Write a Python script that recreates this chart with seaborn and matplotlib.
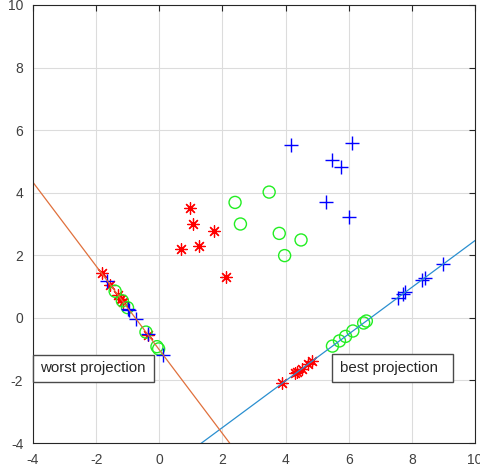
import numpy as np
import pandas as pd
import matplotlib
matplotlib.use("Agg")
import matplotlib.pyplot as plt
from matplotlib.patches import Rectangle
import seaborn as sns

# class data
red_x = [0.97, 1.06, 1.74, 0.69, 1.26, 2.10]
red_y = [3.51, 3.00, 2.79, 2.20, 2.31, 1.30]
green_x = [3.48, 2.40, 2.57, 3.80, 4.49, 3.97]
green_y = [4.02, 3.69, 3.00, 2.70, 2.49, 1.99]
blue_x = [4.17, 6.10, 5.47, 5.76, 5.28, 6.01]
blue_y = [5.53, 5.59, 5.05, 4.82, 3.70, 3.22]

# projection lines: y = slope * x + intercept
best_slope, best_icpt = 0.747, -5.00
worst_slope, worst_icpt = -1.338, -1.02

ticks = [-4, -2, 0, 2, 4, 6, 8, 10]
labels = ["worst projection", "best projection"]

sns.set_style("white")
plt.rcParams['font.family'] = ['Liberation Sans', 'DejaVu Sans']

fig = plt.figure(figsize=(4.81, 4.73), dpi=100)
ax = fig.add_axes([33/481, 30/473, 442/481, 438/473])

def project(xs, ys, slope, icpt):
    d = np.array([1.0, slope]) / np.hypot(1.0, slope)
    p0 = np.array([0.0, icpt])
    pts = np.column_stack([xs, ys]) - p0
    t = pts @ d
    proj = p0 + np.outer(t, d)
    return proj[:, 0], proj[:, 1]

line_x = np.array([-5.0, 11.0])
best_df = pd.DataFrame({"x": line_x, "y": best_slope * line_x + best_icpt})
worst_df = pd.DataFrame({"x": line_x, "y": worst_slope * line_x + worst_icpt})

styles = {
    "red": dict(color="#ff0000", marker=(8, 2, 0), s=70, linewidth=0.9),
    "green": dict(facecolor="none", edgecolor="#22ee22", marker="o", s=75, linewidth=1.0),
    "blue": dict(color="#0000ff", marker="+", s=90, linewidth=1.0),
}
groups = {"red": (red_x, red_y), "green": (green_x, green_y), "blue": (blue_x, blue_y)}

for name, (xs, ys) in groups.items():
    sns.scatterplot(x=xs, y=ys, ax=ax, **styles[name])
    for slope, icpt in [(best_slope, best_icpt), (worst_slope, worst_icpt)]:
        px, py = project(xs, ys, slope, icpt)
        sns.scatterplot(x=px, y=py, ax=ax, **styles[name])

sns.lineplot(data=best_df, x="x", y="y", ax=ax, color="#2a8fd0", linewidth=0.9)
sns.lineplot(data=worst_df, x="x", y="y", ax=ax, color="#e0703c", linewidth=0.9)

ax.set_xlim(-4, 10)
ax.set_ylim(-4, 10)
ax.set_xticks(ticks)
ax.set_yticks(ticks)
ax.set_xticklabels([str(t) for t in ticks])
ax.set_yticklabels([str(t) for t in ticks])
ax.set_xlabel("")
ax.set_ylabel("")
ax.grid(True, color="#dcdcdc", linewidth=0.8)
ax.set_axisbelow(True)
for sp in ax.spines.values():
    sp.set_visible(True)
    sp.set_color("#262626")
    sp.set_linewidth(0.8)
ax.tick_params(direction="in", length=4, width=0.8, colors="#262626",
               labelsize=10, top=True, right=True, labelcolor="#404040")
ax.tick_params(axis="x", pad=7)
ax.tick_params(axis="y", pad=7)

# annotation boxes (MATLAB-style fixed-size text boxes)
for (x0, x1, y0, y1, tx), lab in zip([(-4.0, -0.17, -2.04, -1.19, -3.78),
                                      (5.47, 9.30, -2.05, -1.15, 5.72)], labels):
    ax.add_patch(Rectangle((x0, y0), x1 - x0, y1 - y0, facecolor="white",
                           edgecolor="#4a4a4a", linewidth=1.0, zorder=5, clip_on=False))
    ax.text(tx, (y0 + y1) / 2, lab, fontsize=10.8, color="#262626",
            va="center", ha="left", zorder=6)

fig.savefig("out.png", dpi=100)
